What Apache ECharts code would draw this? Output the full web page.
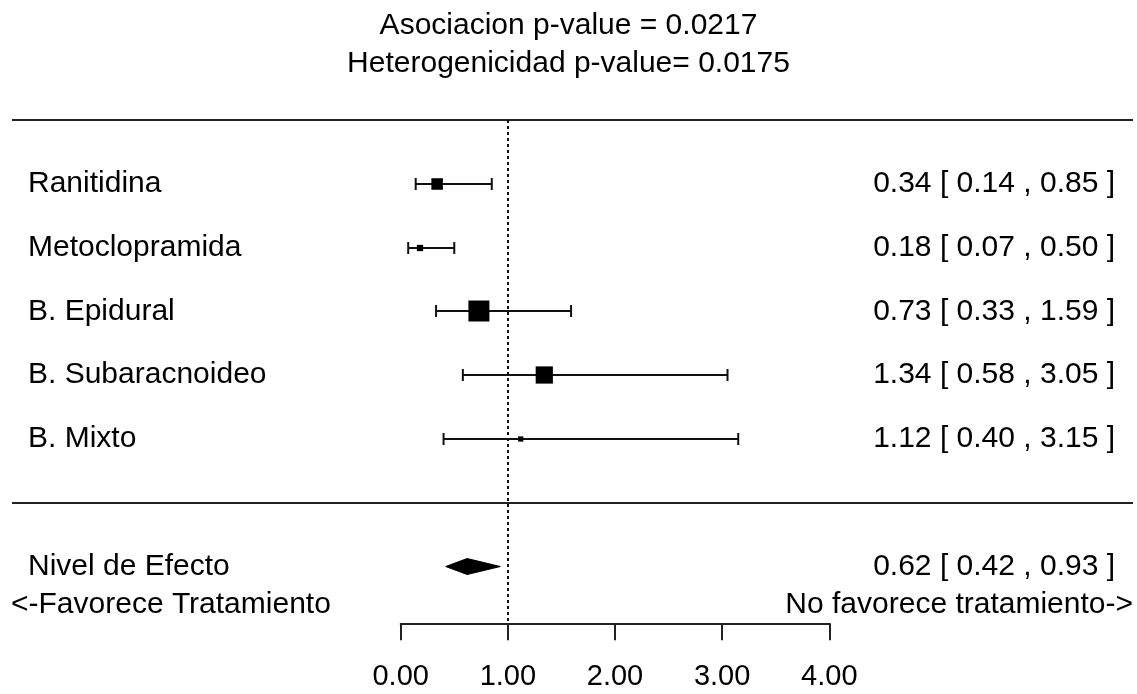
<!DOCTYPE html>
<html>
<head>
<meta charset="utf-8">
<script src="https://cdn.jsdelivr.net/npm/echarts@6/dist/echarts.min.js"></script>
<style>
html,body{margin:0;padding:0;background:#fff;}
#chart{width:1137px;height:694px;}
</style>
</head>
<body>
<div id="chart"></div>
<script>
// ---- data ----
const titleLines = ['Asociacion p-value = 0.0217', 'Heterogenicidad p-value= 0.0175'];
const studyLabels = ['Ranitidina', 'Metoclopramida', 'B. Epidural', 'B. Subaracnoideo', 'B. Mixto'];
const estimates = [0.34, 0.18, 0.73, 1.34, 1.12];
const lowerCI = [0.14, 0.07, 0.33, 0.58, 0.40];
const upperCI = [0.85, 0.50, 1.59, 3.05, 3.15];
const weights = [0.55, 0.30, 1.00, 0.82, 0.25];   // relative box size
const summaryLabel = 'Nivel de Efecto';
const summaryEst = 0.62, summaryLower = 0.42, summaryUpper = 0.93;
const xTicks = [0, 1, 2, 3, 4];
const leftNote = '<-Favorece Tratamiento';
const rightNote = 'No favorece tratamiento->';

const FONT = '"Liberation Sans", Arial, sans-serif';
const fmt = v => v.toFixed(2);
const ciText = (e, l, u) => fmt(e) + ' [ ' + fmt(l) + ' , ' + fmt(u) + ' ]';

const studyRows = studyLabels.map((l, i) => [i + 1, estimates[i], lowerCI[i], upperCI[i], weights[i]]);
const summaryRow = [[studyLabels.length + 2, summaryEst, summaryLower, summaryUpper]];
const separatorRows = [[0], [studyLabels.length + 1]];

const LEFT_X = 28, RIGHT_X = 1115, BOX_MAX = 21, CAP = 6;
const txt = (text, x, y, align) => ({
  type: 'text',
  style: { text: text, x: x, y: y, align: align, verticalAlign: 'middle',
           font: '30px ' + FONT, fill: '#000' }
});

const chart = echarts.init(document.getElementById('chart'), null, { renderer: 'canvas' });
chart.setOption({
  animation: false,
  backgroundColor: '#fff',
  title: {
    text: titleLines.join('\n'),
    left: 'center', top: 2,
    textStyle: { fontSize: 30, lineHeight: 38, fontWeight: 'normal', color: '#000', fontFamily: FONT }
  },
  grid: { left: 400.7, right: 307.7, top: 120, bottom: 70.7 },
  xAxis: {
    type: 'value', min: xTicks[0], max: xTicks[xTicks.length - 1], interval: 1,
    position: 'bottom',
    axisLine: { show: true, onZero: false, lineStyle: { color: '#222', width: 2 } },
    axisTick: { show: true, length: 17, lineStyle: { color: '#222', width: 2 } },
    axisLabel: { formatter: v => fmt(v), fontSize: 29, margin: 39, color: '#000', fontFamily: FONT },
    splitLine: { show: false }
  },
  yAxis: { type: 'value', inverse: true, min: 0, max: 7.89, show: false },
  graphic: [
    { type: 'text', left: 11, top: 590, style: { text: leftNote, font: '30px ' + FONT, fill: '#000' } },
    { type: 'text', right: 4, top: 590, style: { text: rightNote, font: '30px ' + FONT, fill: '#000' } }
  ],
  series: [
    {
      type: 'custom', clip: false, silent: true,
      data: separatorRows,
      encode: { y: 0 },
      renderItem: (params, api) => {
        const y = Math.round(api.coord([0, api.value(0)])[1]);
        return { type: 'line', shape: { x1: 12, y1: y, x2: 1133, y2: y },
                 style: { stroke: '#222', lineWidth: 2 } };
      }
    },
    {
      type: 'custom', clip: false, silent: true,
      data: studyRows,
      encode: { y: 0, x: [1, 2, 3] },
      renderItem: (params, api) => {
        const r = api.value(0);
        const pe = api.coord([api.value(1), r]);
        const pl = api.coord([api.value(2), r]);
        const pu = api.coord([api.value(3), r]);
        const y = Math.round(pe[1]);
        const s = api.value(4) * BOX_MAX;
        const st = { stroke: '#111', lineWidth: 2 };
        const i = params.dataIndex;
        return { type: 'group', children: [
          { type: 'line', shape: { x1: pl[0], y1: y, x2: pu[0], y2: y }, style: st },
          { type: 'line', shape: { x1: pl[0], y1: y - CAP, x2: pl[0], y2: y + CAP }, style: st },
          { type: 'line', shape: { x1: pu[0], y1: y - CAP, x2: pu[0], y2: y + CAP }, style: st },
          { type: 'rect', shape: { x: pe[0] - s / 2, y: y - s / 2, width: s, height: s }, style: { fill: '#000' } },
          txt(studyLabels[i], LEFT_X, pe[1], 'left'),
          txt(ciText(estimates[i], lowerCI[i], upperCI[i]), RIGHT_X, pe[1], 'right')
        ] };
      }
    },
    {
      type: 'custom', clip: false, silent: true,
      data: summaryRow,
      encode: { y: 0, x: [1, 2, 3] },
      renderItem: (params, api) => {
        const r = api.value(0);
        const pe = api.coord([api.value(1), r]);
        const pl = api.coord([api.value(2), r]);
        const pu = api.coord([api.value(3), r]);
        const h = 8;
        return { type: 'group', children: [
          { type: 'polygon', shape: { points: [[pl[0], pl[1]], [pe[0], pe[1] - h], [pu[0], pu[1]], [pe[0], pe[1] + h]] },
            style: { fill: '#000', stroke: '#000', lineWidth: 1 } },
          txt(summaryLabel, LEFT_X, pe[1], 'left'),
          txt(ciText(summaryEst, summaryLower, summaryUpper), RIGHT_X, pe[1], 'right')
        ] };
      }
    },
    {
      type: 'line', data: [], silent: true,
      markLine: {
        symbol: 'none', silent: true, label: { show: false },
        lineStyle: { color: '#111', width: 2, type: [3, 3] },
        data: [{ xAxis: 1 }]
      }
    }
  ]
});
</script>
</body>
</html>
